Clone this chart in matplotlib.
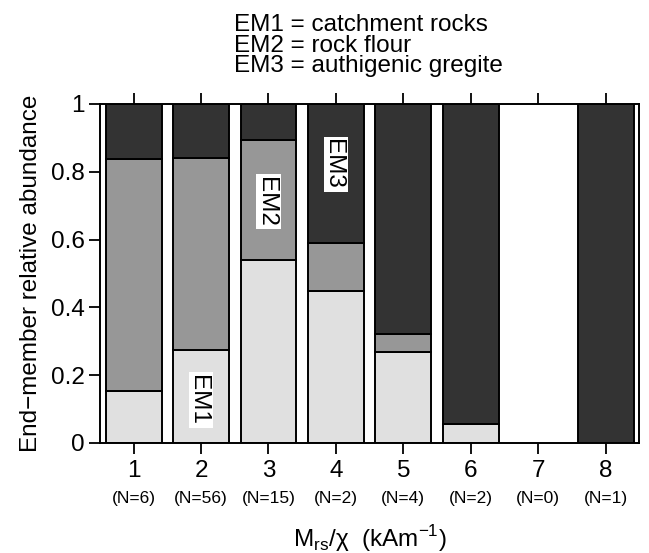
import numpy as np
import matplotlib
matplotlib.use("Agg")
import matplotlib.pyplot as plt
from matplotlib.patches import Rectangle
from matplotlib.transforms import blended_transform_factory

plt.rcParams['font.family'] = ['Liberation Sans', 'DejaVu Sans']

# relative abundance of each end-member per Mrs/chi class
classes = [1, 2, 3, 4, 5, 6, 7, 8]
counts = [6, 56, 15, 2, 4, 2, 0, 1]
em1 = [0.152, 0.275, 0.540, 0.447, 0.268, 0.055, 0.0, 0.0]
em2 = [0.686, 0.565, 0.353, 0.143, 0.054, 0.0, 0.0, 0.0]
em3 = [0.162, 0.160, 0.107, 0.410, 0.678, 0.945, 0.0, 1.0]

colors = ['#e0e0e0', '#979797', '#333333']
fs = 17.5

fig = plt.figure(figsize=(6.49, 5.53), dpi=100)
ax = fig.add_axes([0.154, 0.199, 0.831, 0.613])

x = np.array(classes)
bottom = np.zeros(len(classes))
for vals, c in zip([em1, em2, em3], colors):
    vals = np.array(vals)
    keep = vals > 0
    ax.bar(x[keep], vals[keep], width=0.83, bottom=bottom[keep], color=c,
           edgecolor='black', linewidth=1.4)
    bottom += vals

ax.set_xlim(0.5, 8.5)
ax.set_ylim(0, 1)
ax.set_xticks(classes)
ax.set_xticklabels([str(c) for c in classes], fontsize=fs)
ax.set_yticks([0, 0.2, 0.4, 0.6, 0.8, 1])
ax.set_yticklabels(['0', '0.2', '0.4', '0.6', '0.8', '1'], fontsize=fs)
ax.tick_params(axis='x', which='both', direction='out', length=8, width=1.3,
               top=True, pad=4)
ax.tick_params(axis='y', direction='out', length=8, width=1.3, right=False, pad=3)
for s in ax.spines.values():
    s.set_linewidth(1.4)

# sample counts under each class
trans = blended_transform_factory(ax.transData, ax.transAxes)
for c, n in zip(classes, counts):
    ax.text(c, -0.165, '(N=%d)' % n, transform=trans, ha='center', va='center',
            fontsize=12.5)

ax.set_xlabel('M$_{\\mathregular{rs}}$/\u03c7  (kAm$^{\\mathregular{-1}}$)',
              fontsize=fs, labelpad=30)
ax.set_ylabel('End\u2212member relative abundance', fontsize=fs, labelpad=6)

# end-member tags: white box then text read top to bottom
for xi, yi, lab in [(2, 0.127, 'EM1'), (3, 0.712, 'EM2'), (4, 0.822, 'EM3')]:
    ax.add_patch(Rectangle((xi - 0.18, yi - 0.082), 0.36, 0.164,
                           facecolor='white', edgecolor='none', zorder=3))
    ax.annotate(lab, (xi, yi), xytext=(-6.2, 0), textcoords='offset points',
                rotation=270, rotation_mode='anchor', ha='center',
                va='baseline', fontsize=fs, zorder=4)

fig.text(0.36, 0.975, 'EM1 = catchment rocks\nEM2 = rock flour\nEM3 = authigenic gregite',
         ha='left', va='top', fontsize=fs, linespacing=0.93)

fig.savefig('out.png', dpi=100)
